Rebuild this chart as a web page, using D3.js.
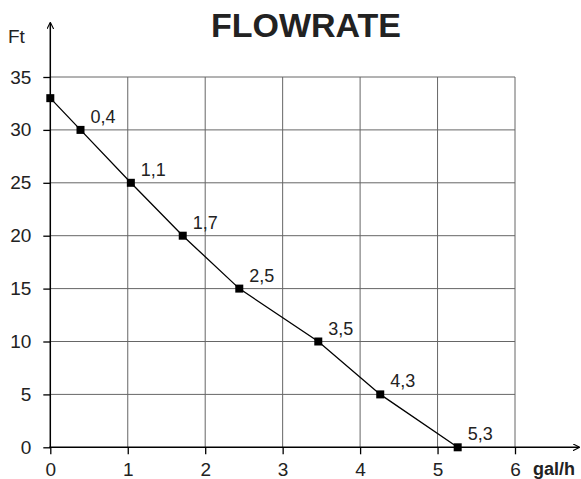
<!DOCTYPE html>
<html>
<head>
<meta charset="utf-8">
<script src="https://cdn.jsdelivr.net/npm/d3@7"></script>
<style>
  body { margin: 0; background: #fff; }
  text { font-family: "Liberation Sans", Arial, sans-serif; fill: #222; }
</style>
</head>
<body>
<div id="chart-area"></div>
<script>
const WIDTH = 581
const HEIGHT = 479

// flow (gal/h) vs head (Ft)
const flow = [0, 0.39, 1.04, 1.71, 2.44, 3.46, 4.26, 5.26]
const head = [33, 30, 25, 20, 15, 10, 5, 0]
const pointLabels = ["", "0,4", "1,1", "1,7", "2,5", "3,5", "4,3", "5,3"]
const xTicks = [0, 1, 2, 3, 4, 5, 6]
const yTicks = [0, 5, 10, 15, 20, 25, 30, 35]

const svg = d3.select("#chart-area").append("svg")
  .attr("width", WIDTH)
  .attr("height", HEIGHT)

const x = d3.scaleLinear().domain([0, 6]).range([50.3, 515])
const y = d3.scaleLinear().domain([0, 35]).range([447.3, 77])

// grid
svg.append("g").selectAll("line.v")
  .data(xTicks.slice(1))
  .enter().append("line")
    .attr("x1", d => x(d)).attr("x2", d => x(d))
    .attr("y1", y(0)).attr("y2", y(35))
    .attr("stroke", "#666").attr("stroke-width", 1)

svg.append("g").selectAll("line.h")
  .data(yTicks.slice(1))
  .enter().append("line")
    .attr("x1", x(0)).attr("x2", x(6))
    .attr("y1", d => y(d)).attr("y2", d => y(d))
    .attr("stroke", "#666").attr("stroke-width", 1)

// axes
const xAxisCall = d3.axisBottom(x).tickValues(xTicks).tickFormat(d3.format("d"))
  .tickSize(7).tickPadding(8)
const xAxis = svg.append("g")
  .attr("transform", `translate(0, ${y(0)})`)
  .call(xAxisCall)

const yAxisCall = d3.axisLeft(y).tickValues(yTicks).tickFormat(d3.format("d"))
  .tickSize(7).tickPadding(12)
const yAxis = svg.append("g")
  .attr("transform", `translate(${x(0)}, 0)`)
  .call(yAxisCall)

;[xAxis, yAxis].forEach(a => {
  a.select(".domain").remove()
  a.selectAll(".tick line").attr("stroke", "#000").attr("stroke-width", 1.3)
  a.selectAll(".tick text")
    .attr("font-size", "19px")
    .attr("font-family", "Liberation Sans, Arial, sans-serif")
    .attr("fill", "#222")
})

// axis lines with arrows
svg.append("defs").append("marker")
  .attr("id", "arrow")
  .attr("viewBox", "0 0 10 10")
  .attr("refX", 9).attr("refY", 5)
  .attr("markerWidth", 7).attr("markerHeight", 7)
  .attr("markerUnits", "userSpaceOnUse")
  .attr("orient", "auto")
  .append("path")
    .attr("d", "M0,0 L10,5 L0,10")
    .attr("fill", "none").attr("stroke", "#000").attr("stroke-width", 1.6)

svg.append("line")
  .attr("x1", x(0) - 1).attr("x2", 579)
  .attr("y1", y(0)).attr("y2", y(0))
  .attr("stroke", "#000").attr("stroke-width", 1.5)
  .attr("marker-end", "url(#arrow)")

svg.append("line")
  .attr("x1", x(0)).attr("x2", x(0))
  .attr("y1", y(0) + 1).attr("y2", 23)
  .attr("stroke", "#000").attr("stroke-width", 1.5)
  .attr("marker-end", "url(#arrow)")

// line + markers
const pts = flow.map((f, i) => ({ f: f, h: head[i], label: pointLabels[i] }))

svg.append("path")
  .datum(pts)
  .attr("fill", "none")
  .attr("stroke", "#000")
  .attr("stroke-width", 1.3)
  .attr("d", d3.line().x(d => x(d.f)).y(d => y(d.h)))

svg.selectAll("rect.pt")
  .data(pts)
  .enter().append("rect")
    .attr("x", d => x(d.f) - 4)
    .attr("y", d => y(d.h) - 4)
    .attr("width", 8).attr("height", 8)
    .attr("fill", "#000")

svg.selectAll("text.pt")
  .data(pts)
  .enter().append("text")
    .attr("x", d => x(d.f) + 10)
    .attr("y", d => y(d.h) - 7)
    .attr("font-size", "18px")
    .text(d => d.label)

// labels
svg.append("text")
  .attr("x", 306).attr("y", 37)
  .attr("text-anchor", "middle")
  .attr("font-size", "34px")
  .attr("font-weight", "bold")
  .text("FLOWRATE")

svg.append("text")
  .attr("x", 8).attr("y", 43)
  .attr("font-size", "19px")
  .text("Ft")

svg.append("text")
  .attr("x", 533).attr("y", 475)
  .attr("font-size", "18px")
  .attr("font-weight", "bold")
  .text("gal/h")
</script>
</body>
</html>
